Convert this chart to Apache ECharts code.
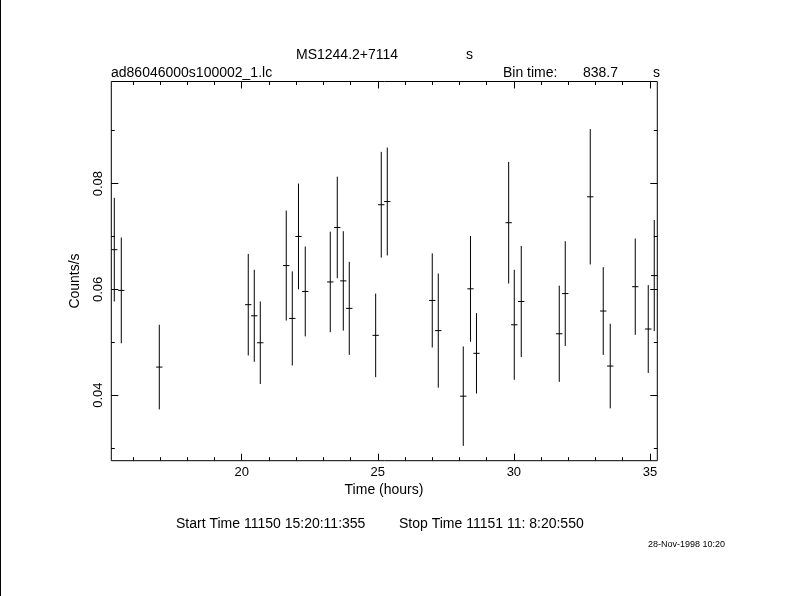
<!DOCTYPE html>
<html><head><meta charset="utf-8">
<script src="https://cdn.jsdelivr.net/npm/echarts@6/dist/echarts.min.js"></script>
<style>html,body{margin:0;padding:0;background:#fff;}#c{width:790px;height:596px;}</style>
</head><body><div id="c"></div>
<script>
// ---- data ----
const times = [15.320, 15.577, 16.973, 20.242, 20.463, 20.683, 21.638, 21.859, 22.087, 22.336,
  23.255, 23.512, 23.733, 23.953, 24.923, 25.128, 25.349, 27.002, 27.223, 28.141,
  28.406, 28.626, 29.809, 30.015, 30.272, 31.668, 31.888, 32.807, 33.284, 33.541,
  34.460, 34.937, 35.158];
const rates = [0.0675, 0.0598, 0.0453, 0.0571, 0.0550, 0.0499, 0.0645, 0.0545, 0.0700, 0.0596,
  0.0614, 0.0717, 0.0616, 0.0564, 0.0513, 0.0760, 0.0766, 0.0579, 0.0522, 0.0398,
  0.0601, 0.0479, 0.0726, 0.0533, 0.0577, 0.0516, 0.0592, 0.0775, 0.0559, 0.0455,
  0.0605, 0.0525, 0.0626];
const errors = [0.0098, 0.0100, 0.0080, 0.0096, 0.0087, 0.0078, 0.0104, 0.0089, 0.0100, 0.0085,
  0.0095, 0.0096, 0.0094, 0.0088, 0.0079, 0.0100, 0.0102, 0.0089, 0.0108, 0.0094,
  0.0100, 0.0076, 0.0115, 0.0104, 0.0105, 0.0091, 0.0099, 0.0128, 0.0083, 0.0080,
  0.0091, 0.0083, 0.0105];
const binTimeSec = 838.7;
const xMajorTicks = [20, 25, 30, 35];
const xMinorTicks = [16, 17, 18, 19, 21, 22, 23, 24, 26, 27, 28, 29, 31, 32, 33, 34];
const yMajorTicks = [0.04, 0.06, 0.08];
const yMinorTicks = [0.03, 0.05, 0.07, 0.09];
const X_MIN = 15.21, X_MAX = 35.27;
const Y_MIN = 0.0276, Y_MAX = 0.0993;

const FONT = 'Liberation Sans';
const binHalf = binTimeSec / 3600 / 2;

function xAx(pos, ticks, len, labels) {
  return {
    type: 'value', position: pos, min: X_MIN, max: X_MAX,
    axisLine: {show: false}, splitLine: {show: false},
    axisTick: {show: true, inside: true, length: len, customValues: ticks, lineStyle: {color: '#000', width: 1}},
    axisLabel: labels ? {show: true, customValues: ticks, color: '#000', fontSize: 13, fontFamily: FONT, margin: 5} : {show: false}
  };
}
function yAx(pos, ticks, len, labels) {
  return {
    type: 'value', position: pos, min: Y_MIN, max: Y_MAX,
    axisLine: {show: false}, splitLine: {show: false},
    axisTick: {show: true, inside: true, length: len, customValues: ticks, lineStyle: {color: '#000', width: 1}},
    axisLabel: labels ? {show: true, customValues: ticks, rotate: 90, color: '#000', fontSize: 13, fontFamily: FONT, margin: 6,
      formatter: v => v.toFixed(2)} : {show: false}
  };
}

const chart = echarts.init(document.getElementById('c'), null, {renderer: 'canvas'});
function txt(t, x, y, opts) {
  return Object.assign({type: 'text', x: x, y: y, style: Object.assign({text: t, fill: '#000', font: '14px ' + FONT, textVerticalAlign: 'middle', textAlign: 'left'}, opts || {})});
}
chart.setOption({
  backgroundColor: '#fff',
  animation: false,
  grid: {left: 111.3, right: 132.7, top: 81.5, bottom: 135.3, show: true, borderColor: '#000', borderWidth: 1, backgroundColor: 'transparent'},
  xAxis: [
    xAx('bottom', xMajorTicks, 7, true),
    xAx('bottom', xMinorTicks, 3.5, false),
    xAx('top', xMajorTicks, 7, false),
    xAx('top', xMinorTicks, 3.5, false)
  ],
  yAxis: [
    yAx('left', yMajorTicks, 7, true),
    yAx('left', yMinorTicks, 3.5, false),
    yAx('right', yMajorTicks, 7, false),
    yAx('right', yMinorTicks, 3.5, false)
  ],
  series: [{
    type: 'custom',
    xAxisIndex: 0, yAxisIndex: 0,
    clip: true,
    data: times.map((t, i) => [t, rates[i], errors[i]]),
    encode: {x: 0, y: 1},
    renderItem: function (params, api) {
      const t = api.value(0), r = api.value(1), e = api.value(2);
      const top = api.coord([t, r + e]), bot = api.coord([t, r - e]);
      const l = api.coord([t - binHalf, r]), rr = api.coord([t + binHalf, r]);
      const cs = params.coordSys;
      return {
        type: 'group',
        clipPath: {type: 'rect', shape: {x: cs.x, y: cs.y, width: cs.width, height: cs.height}},
        children: [
          {type: 'line', shape: {x1: top[0], y1: top[1], x2: bot[0], y2: bot[1]}, style: {stroke: '#000', lineWidth: 1}},
          {type: 'line', shape: {x1: l[0], y1: l[1], x2: rr[0], y2: rr[1]}, style: {stroke: '#000', lineWidth: 1}}
        ]
      };
    }
  }],
  graphic: [
    {type: 'rect', shape: {x: 0, y: 0, width: 1, height: 596}, style: {fill: '#000'}},
    txt('MS1244.2+7114', 296, 55),
    txt('s', 466, 55),
    txt('ad86046000s100002_1.lc', 111, 73),
    txt('Bin time:', 503, 73),
    txt('838.7', 583, 73),
    txt('s', 653, 73),
    txt('Time (hours)', 384, 490, {textAlign: 'center'}),
    Object.assign(txt('Counts/s', 75, 281, {textAlign: 'center'}), {rotation: Math.PI / 2}),
    txt('Start Time 11150 15:20:11:355', 176, 524),
    txt('Stop Time 11151 11: 8:20:550', 399, 524),
    txt('28-Nov-1998 10:20', 648, 545, {font: '9px ' + FONT})
  ]
});
</script></body></html>
